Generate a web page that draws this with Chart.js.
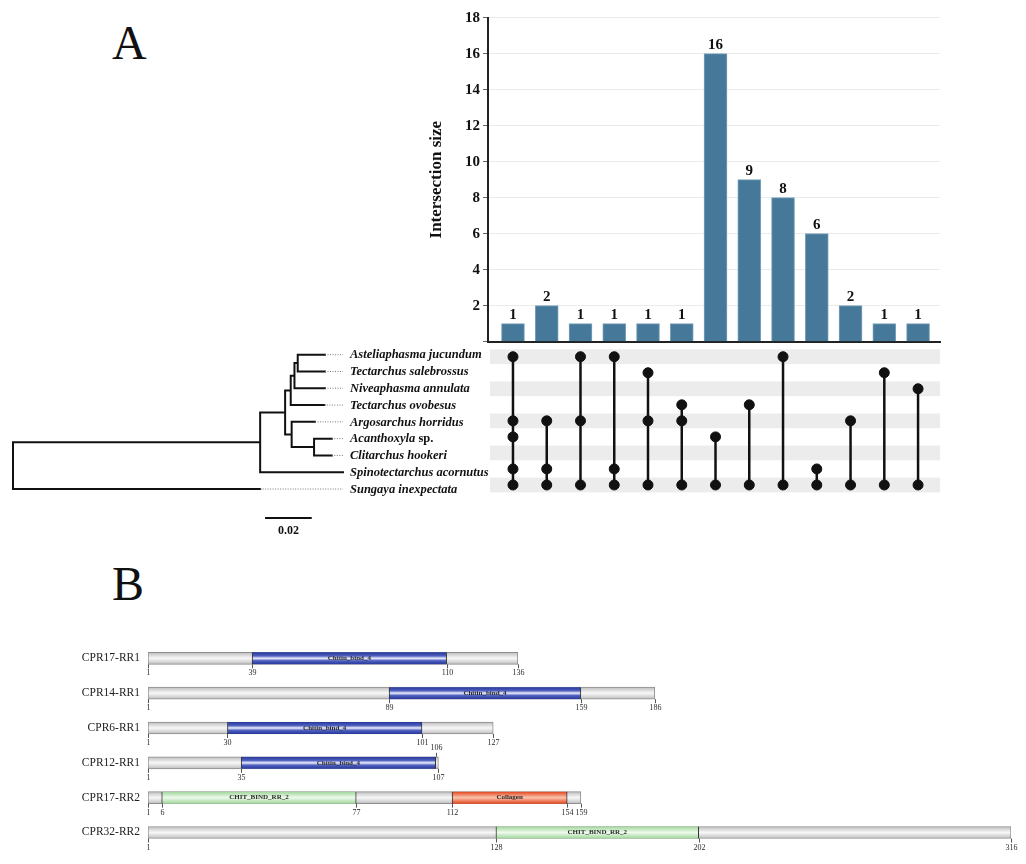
<!DOCTYPE html>
<html>
<head>
<meta charset="utf-8">
<title>Intersection sizes and CPR domain structure</title>
<script src="https://cdn.jsdelivr.net/npm/chart.js@4.4.0/dist/chart.umd.min.js"></script>
<style>
  html, body { margin: 0; padding: 0; background: #fff; }
  body { width: 1026px; height: 864px; position: relative; overflow: hidden; font-family: 'Liberation Serif', 'Times New Roman', serif; }
  .panel-letter { position: absolute; font-size: 48px; line-height: 1; color: #111; }
  canvas { position: absolute; }
</style>
</head>
<body>
<div class="panel-letter" style="left:112px; top:19px">A</div>
<div class="panel-letter" style="left:112px; top:560px">B</div>

<canvas id="treeChart" style="left:0px; top:340px" width="510" height="200"></canvas>
<canvas id="matrixChart" style="left:420px; top:340px" width="530" height="165"></canvas>
<canvas id="barChart" style="left:420px; top:0px" width="530" height="362"></canvas>
<canvas id="domainChart" style="left:0px; top:630px" width="1026" height="234"></canvas>

<script>
const FONT = "'Liberation Serif', 'Times New Roman', serif";

// --- DATA: panel A (UpSet plot) ---
const intersectionSizes = [1, 2, 1, 1, 1, 1, 16, 9, 8, 6, 2, 1, 1];
// rows (species index) taking part in each intersection
const intersectionSets = [
    [0, 4, 5, 7, 8], [4, 7, 8], [0, 4, 8], [0, 7, 8], [1, 4, 8], [3, 4, 8],
    [5, 8], [3, 8], [0, 8], [7, 8], [4, 8], [1, 8], [2, 8]
];
const speciesNames = [
    'Asteliaphasma jucundum', 'Tectarchus salebrossus', 'Niveaphasma annulata',
    'Tectarchus ovobesus', 'Argosarchus horridus', 'Acanthoxyla sp.',
    'Clitarchus hookeri', 'Spinotectarchus acornutus', 'Sungaya inexpectata'
];
const sizeTicksMax = 18;
const sizeTickStep = 2;

// --- DATA: phylogeny (depth from root, substitutions/site) ---
const tipDepth = [0.1337, 0.1337, 0.1337, 0.1334, 0.1294, 0.1366, 0.1366, 0.1414, 0.1059];
const cladeIds = ['root', 'n1', 'n2', 'n3', 'n4', 'n5', 'n6', 'n7'];
const cladeDepth = [0, 0.1059, 0.1166, 0.1190, 0.1206, 0.1220, 0.1194, 0.1290];
const cladeChildren = [
    ['n1', 't8'], ['n2', 't7'], ['n3', 'n6'], ['n4', 't3'],
    ['n5', 't2'], ['t0', 't1'], ['t4', 'n7'], ['t5', 't6']
];
const scaleBarLength = 0.02;
const scaleBarStart = 0.108;

// --- DATA: panel B (domain architecture) ---
const proteinNames = ['CPR17-RR1', 'CPR14-RR1', 'CPR6-RR1', 'CPR12-RR1', 'CPR17-RR2', 'CPR32-RR2'];
const proteinLengths = [136, 186, 127, 107, 159, 316];
const chitinBind4 = [[39, 110], [89, 159], [30, 101], [35, 106], null, null];
const chitBindRR2 = [null, null, null, null, [6, 77], [128, 202]];
const collagenDomain = [null, null, null, null, [112, 154], null];

// --- PANEL A: bar chart ---
const valueLabels = {
    id: 'valueLabels',
    afterDatasetsDraw(chart) {
        const { ctx } = chart;
        const meta = chart.getDatasetMeta(0);
        ctx.save();
        ctx.font = 'bold 15px ' + FONT;
        ctx.fillStyle = '#111';
        ctx.textAlign = 'center';
        ctx.textBaseline = 'bottom';
        meta.data.forEach((bar, i) => ctx.fillText(intersectionSizes[i], bar.x, bar.y - 1));
        ctx.restore();
    }
};

new Chart(document.getElementById('barChart'), {
    type: 'bar',
    data: {
        datasets: [{
            data: intersectionSizes.map((v, i) => ({ x: i, y: v })),
            backgroundColor: '#457899',
            borderColor: '#7ea3bb',
            borderWidth: 1,
            barThickness: 23
        }]
    },
    options: {
        responsive: false,
        animation: false,
        layout: { padding: { top: 17.7, right: 10, bottom: 20.3, left: 0 } },
        plugins: { legend: { display: false }, tooltip: { enabled: false } },
        scales: {
            x: {
                type: 'linear', min: -0.74, max: 12.65, offset: false,
                grid: { display: false },
                ticks: { display: false },
                border: { color: '#222', width: 2 },
                afterFit: s => { s.height = 0; }
            },
            y: {
                min: 0, max: sizeTicksMax,
                ticks: {
                    stepSize: sizeTickStep,
                    callback: v => (v === 0 ? '' : v),
                    font: { family: FONT, size: 15, weight: 'bold' },
                    color: '#111',
                    padding: 3
                },
                grid: { color: '#ebebeb', tickColor: '#666', tickLength: 5 },
                border: { color: '#222', width: 2 },
                title: {
                    display: true,
                    text: 'Intersection size',
                    font: { family: FONT, size: 17, weight: 'bold' },
                    color: '#111',
                    padding: { top: 6, bottom: 0 }
                },
                afterFit: s => { s.width = 68; }
            }
        }
    },
    plugins: [valueLabels]
});

// --- PANEL A: membership matrix ---
const matrixPoints = [];
const matrixLinks = [];
intersectionSets.forEach((rows, col) => {
    rows.forEach(r => matrixPoints.push({ x: col, y: r }));
    matrixLinks.push({ x: col, y: Math.min(...rows) }, { x: col, y: Math.max(...rows) }, { x: col, y: null });
});

const rowBands = {
    id: 'rowBands',
    beforeDatasetsDraw(chart) {
        const { ctx, chartArea, scales: { y } } = chart;
        const half = Math.abs(y.getPixelForValue(0.46) - y.getPixelForValue(0));
        ctx.save();
        ctx.fillStyle = '#ececec';
        speciesNames.forEach((name, r) => {
            if (r % 2) return;
            const c = y.getPixelForValue(r);
            ctx.fillRect(chartArea.left + 2, c - half, chartArea.right - chartArea.left - 2, half * 2);
        });
        ctx.restore();
    }
};

new Chart(document.getElementById('matrixChart'), {
    type: 'scatter',
    data: {
        datasets: [
            { type: 'line', data: matrixLinks, borderColor: '#111', borderWidth: 2.5, pointRadius: 0, spanGaps: false, order: 2 },
            { data: matrixPoints, backgroundColor: '#111', borderColor: '#111', pointRadius: 5, order: 1 }
        ]
    },
    options: {
        responsive: false,
        animation: false,
        layout: { padding: { top: 8.7, bottom: 12, left: 68, right: 10 } },
        plugins: { legend: { display: false }, tooltip: { enabled: false } },
        scales: {
            x: { type: 'linear', min: -0.74, max: 12.65, display: false },
            y: { type: 'linear', min: -0.5, max: 8.5, reverse: true, display: false }
        }
    },
    plugins: [rowBands]
});

// --- PANEL A: phylogenetic tree ---
const nodeY = {};
const nodeDepth = {};
tipDepth.forEach((d, i) => { nodeY['t' + i] = i; nodeDepth['t' + i] = d; });
cladeIds.forEach((id, i) => { nodeDepth[id] = cladeDepth[i]; });
function yOf(id) {
    if (nodeY[id] === undefined) {
        const kids = cladeChildren[cladeIds.indexOf(id)];
        nodeY[id] = (yOf(kids[0]) + yOf(kids[kids.length - 1])) / 2;
    }
    return nodeY[id];
}
const branchPoints = [];
cladeIds.forEach((id, i) => {
    const kids = cladeChildren[i];
    const d = cladeDepth[i];
    branchPoints.push({ x: d, y: yOf(kids[0]) }, { x: d, y: yOf(kids[kids.length - 1]) }, { x: d, y: null });
    kids.forEach(k => branchPoints.push({ x: d, y: yOf(k) }, { x: nodeDepth[k], y: yOf(k) }, { x: d, y: null }));
});
const maxDepth = Math.max(...tipDepth);
const leaderPoints = [];
tipDepth.forEach((d, i) => {
    if (d < maxDepth) leaderPoints.push({ x: d, y: i }, { x: maxDepth, y: i }, { x: d, y: null });
});
const scaleBarRow = 9.73;

const treeLabels = {
    id: 'treeLabels',
    afterDatasetsDraw(chart) {
        const { ctx, scales: { x, y } } = chart;
        const lx = x.getPixelForValue(maxDepth) + 7;
        ctx.save();
        ctx.fillStyle = '#111';
        ctx.textBaseline = 'middle';
        ctx.textAlign = 'left';
        speciesNames.forEach((name, i) => {
            const py = y.getPixelForValue(i) + 0.5;
            let main = name, suffix = '';
            if (name.endsWith(' sp.')) { main = name.slice(0, -4); suffix = ' sp.'; }
            ctx.font = 'italic bold 12.5px ' + FONT;
            ctx.fillText(main, lx, py);
            if (suffix) {
                const w = ctx.measureText(main).width;
                ctx.font = 'bold 12.5px ' + FONT;
                ctx.fillText(suffix, lx + w, py);
            }
        });
        ctx.font = 'bold 12px ' + FONT;
        ctx.textAlign = 'center';
        ctx.fillText(String(scaleBarLength), x.getPixelForValue(scaleBarStart + scaleBarLength / 2), y.getPixelForValue(scaleBarRow) + 13);
        ctx.restore();
    }
};

new Chart(document.getElementById('treeChart'), {
    type: 'scatter',
    data: {
        datasets: [
            { type: 'line', data: leaderPoints, borderColor: '#777', borderWidth: 1, borderDash: [1, 1.5], pointRadius: 0, spanGaps: false, clip: false },
            { type: 'line', data: branchPoints, borderColor: '#111', borderWidth: 2, pointRadius: 0, spanGaps: false, clip: false, borderCapStyle: 'square' },
            { type: 'line', data: [{ x: scaleBarStart, y: scaleBarRow }, { x: scaleBarStart + scaleBarLength, y: scaleBarRow }], borderColor: '#111', borderWidth: 2, pointRadius: 0, clip: false }
        ]
    },
    options: {
        responsive: false,
        animation: false,
        layout: { padding: { top: 14.7, bottom: 9, left: 13, right: 167 } },
        plugins: { legend: { display: false }, tooltip: { enabled: false } },
        scales: {
            x: { type: 'linear', min: 0, max: maxDepth, display: false },
            y: { type: 'linear', min: 0, max: 10.5, reverse: true, display: false }
        }
    },
    plugins: [treeLabels]
});

// --- PANEL B: domain architecture ---
function bandGradient(stops) {
    return ctx => {
        const chart = ctx.chart;
        if (!chart.chartArea || ctx.type !== 'data') return stops[Math.floor(stops.length / 2)][1];
        const yc = chart.scales.y.getPixelForValue(ctx.dataIndex);
        const g = chart.ctx.createLinearGradient(0, yc - 6, 0, yc + 6);
        stops.forEach(([o, c]) => g.addColorStop(o, c));
        return g;
    };
}
const greyStops = [[0, '#bdbdbd'], [0.5, '#f8f8f8'], [1, '#bdbdbd']];
const blueStops = [[0, '#26379b'], [0.3, '#4f60c0'], [0.5, '#eef0fb'], [0.7, '#4f60c0'], [1, '#26379b']];
const greenStops = [[0, '#9fd69a'], [0.5, '#eefaec'], [1, '#9fd69a']];
const redStops = [[0, '#e2451c'], [0.5, '#fbc3ad'], [1, '#e2451c']];

const domainSets = [
    { name: 'Chitin_bind_4', ranges: chitinBind4, stops: blueStops },
    { name: 'CHIT_BIND_RR_2', ranges: chitBindRR2, stops: greenStops },
    { name: 'Collagen', ranges: collagenDomain, stops: redStops }
];

const domainLabels = {
    id: 'domainLabels',
    afterDatasetsDraw(chart) {
        const { ctx, scales: { x, y } } = chart;
        ctx.save();
        ctx.fillStyle = '#2a2a2a';
        ctx.strokeStyle = '#555';
        ctx.lineWidth = 1;
        ctx.textAlign = 'center';
        ctx.textBaseline = 'middle';
        proteinNames.forEach((p, i) => {
            const yc = y.getPixelForValue(i);
            const below = [1, proteinLengths[i]];
            const above = [];
            domainSets.forEach(ds => {
                const r = ds.ranges[i];
                if (!r) return;
                ctx.font = 'bold 7px ' + FONT;
                ctx.fillText(ds.name, x.getPixelForValue((r[0] + r[1]) / 2), yc);
                below.push(r[0]);
                if (proteinLengths[i] - r[1] <= 2 && proteinLengths[i] !== r[1]) above.push(r[1]); else below.push(r[1]);
            });
            ctx.font = '8px ' + FONT;
            below.forEach(v => {
                const px = Math.round(x.getPixelForValue(v)) + 0.5;
                ctx.beginPath(); ctx.moveTo(px, yc + 6); ctx.lineTo(px, yc + 10); ctx.stroke();
                ctx.fillText(v, px, yc + 15);
            });
            above.forEach(v => {
                const px = Math.round(x.getPixelForValue(v)) + 0.5;
                ctx.beginPath(); ctx.moveTo(px, yc - 6); ctx.lineTo(px, yc - 10); ctx.stroke();
                ctx.fillText(v, px, yc - 15);
            });
        });
        ctx.restore();
    }
};

new Chart(document.getElementById('domainChart'), {
    type: 'bar',
    data: {
        labels: proteinNames,
        datasets: [
            {
                data: proteinLengths.map(l => [1, l]),
                backgroundColor: bandGradient(greyStops),
                borderColor: '#8e8e8e',
                borderWidth: 1,
                borderSkipped: false,
                barThickness: 12,
                grouped: false,
                order: 3
            },
            ...domainSets.map((ds, k) => ({
                data: ds.ranges,
                backgroundColor: bandGradient(ds.stops),
                borderColor: '#333',
                borderWidth: { left: 1, right: 1, top: 0, bottom: 0 },
                borderSkipped: false,
                barThickness: 12,
                grouped: false,
                order: 2 - k * 0.1
            }))
        ]
    },
    options: {
        indexAxis: 'y',
        responsive: false,
        animation: false,
        layout: { padding: { top: 10.9, bottom: 14.1, right: 15, left: 0 } },
        plugins: { legend: { display: false }, tooltip: { enabled: false } },
        scales: {
            x: { type: 'linear', min: 1, max: 316, display: false },
            y: {
                grid: { display: false },
                border: { display: false },
                ticks: { font: { family: FONT, size: 11.5 }, color: '#222', padding: 0 },
                afterFit: s => { s.width = 148; }
            }
        }
    },
    plugins: [domainLabels]
});
</script>
</body>
</html>
